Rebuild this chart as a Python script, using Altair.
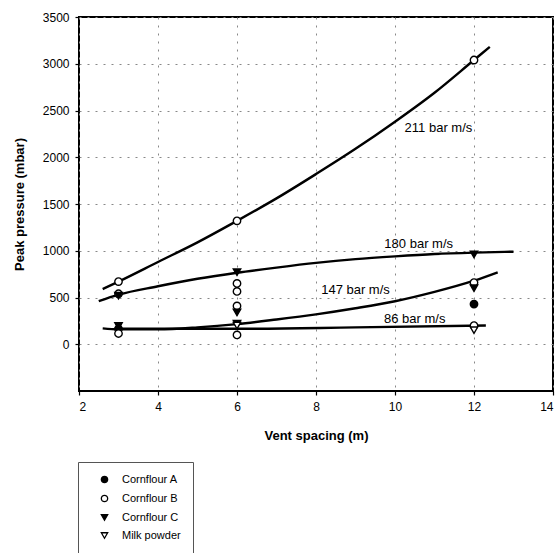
import altair as alt
import pandas as pd

# ---- fitted curves ----
c211_x = [2.6, 3, 4, 5, 6, 7, 8, 9, 10, 11, 12, 12.4]
c211_y = [590, 670, 880, 1090, 1320, 1560, 1820, 2090, 2380, 2690, 3040, 3180]
c180_x = [2.5, 3, 4, 5, 6, 7, 8, 9, 10, 11, 12, 13]
c180_y = [460, 530, 620, 700, 765, 820, 870, 910, 940, 965, 980, 990]
c147_x = [2.6, 3, 4, 5, 6, 7, 8, 9, 10, 11, 12, 12.6]
c147_y = [170, 160, 160, 180, 215, 265, 320, 385, 460, 560, 680, 770]
c86_x = [2.9, 6, 9, 12.3]
c86_y = [165, 165, 180, 200]

# ---- measured points ----
materials = ["Cornflour A", "Cornflour B", "Cornflour C", "Milk powder"]
pt_x = [3, 3, 3, 3, 3, 3,
        6, 6, 6, 6, 6, 6, 6, 6, 6,
        12, 12, 12, 12, 12, 12, 12]
pt_y = [670, 540, 520, 195, 165, 115,
        1320, 770, 650, 565, 410, 340, 220, 200, 100,
        3040, 960, 660, 600, 430, 200, 150]
pt_m = ["Cornflour B", "Cornflour B", "Cornflour C", "Cornflour C", "Cornflour A", "Cornflour B",
        "Cornflour B", "Cornflour C", "Cornflour B", "Cornflour B", "Cornflour B", "Cornflour C",
        "Cornflour C", "Milk powder", "Cornflour B",
        "Cornflour B", "Cornflour C", "Cornflour B", "Cornflour C", "Cornflour A", "Cornflour B",
        "Milk powder"]

# ---- curve labels ----
lab_text = ["211 bar m/s", "180 bar m/s", "147 bar m/s", "86 bar m/s"]
lab_x = [11.1, 10.6, 9.0, 10.5]
lab_y = [2310, 1075, 575, 265]

x_ticks = [2, 4, 6, 8, 10, 12, 14]
y_ticks = [0, 500, 1000, 1500, 2000, 2500, 3000, 3500]

curves = pd.concat([
    pd.DataFrame({"series": name, "x": xs, "y": ys})
    for name, xs, ys in [("211", c211_x, c211_y), ("180", c180_x, c180_y),
                         ("147", c147_x, c147_y), ("86", c86_x, c86_y)]
])
points = pd.DataFrame({"x": pt_x, "y": pt_y, "material": pt_m})
labels = pd.DataFrame({"text": lab_text, "x": lab_x, "y": lab_y})

xs = alt.Scale(domain=[2, 14], nice=False, zero=False)
ys = alt.Scale(domain=[-500, 3500], nice=False, zero=False)

x_enc = alt.X("x:Q", scale=xs, title="Vent spacing (m)",
              axis=alt.Axis(values=x_ticks, titlePadding=17, format="d"))
y_enc = alt.Y("y:Q", scale=ys, title="Peak pressure (mbar)",
              axis=alt.Axis(values=y_ticks, titlePadding=16, format="d"))

lines = alt.Chart(curves).mark_line(color="black", strokeWidth=2.4, interpolate="monotone").encode(
    x=x_enc, y=y_enc, detail="series:N"
)

leg = alt.Legend(title=None, orient="none", legendX=-1, legendY=445,
                 strokeColor="#555", padding=12, rowPadding=6,
                 labelFontSize=11, labelFont="Liberation Sans", labelColor="black",
                 symbolStrokeColor="black", symbolStrokeWidth=1.3, symbolSize=40,
                 symbolOffset=9, labelOffset=12)

pts = alt.Chart(points).mark_point(filled=True, stroke="black", strokeWidth=1.4, size=55, opacity=1).encode(
    x=alt.X("x:Q", scale=xs),
    y=alt.Y("y:Q", scale=ys),
    shape=alt.Shape("material:N",
                    scale=alt.Scale(domain=materials,
                                    range=["circle", "circle", "triangle-down", "triangle-down"]),
                    legend=leg),
    fill=alt.Fill("material:N",
                  scale=alt.Scale(domain=materials, range=["black", "white", "black", "white"]),
                  legend=leg),
    stroke=alt.Stroke("material:N",
                      scale=alt.Scale(domain=materials, range=["black", "black", "black", "black"]),
                      legend=leg),
)

txt = alt.Chart(labels).mark_text(font="Liberation Sans", fontSize=13, color="black").encode(
    x=alt.X("x:Q", scale=xs), y=alt.Y("y:Q", scale=ys), text="text:N"
)

chart = alt.layer(lines, pts, txt).properties(
    width=474, height=374,
    autosize=alt.AutoSizeParams(type="none"),
    padding={"left": 79, "top": 17, "right": 7, "bottom": 162},
    background="white",
).configure_view(
    stroke="black", strokeWidth=2
).configure_axis(
    domain=False,
    grid=True, gridColor="#888", gridDash=[2, 6], gridWidth=1,
    tickColor="black", tickSize=4, tickWidth=1.2,
    labelFont="Liberation Sans", labelFontSize=12, labelColor="black", labelPadding=6,
    titleFont="Liberation Sans", titleFontSize=13, titleFontWeight="bold", titleColor="black",
)

chart.save("out.html", embed_options={"renderer": "svg", "actions": False})
